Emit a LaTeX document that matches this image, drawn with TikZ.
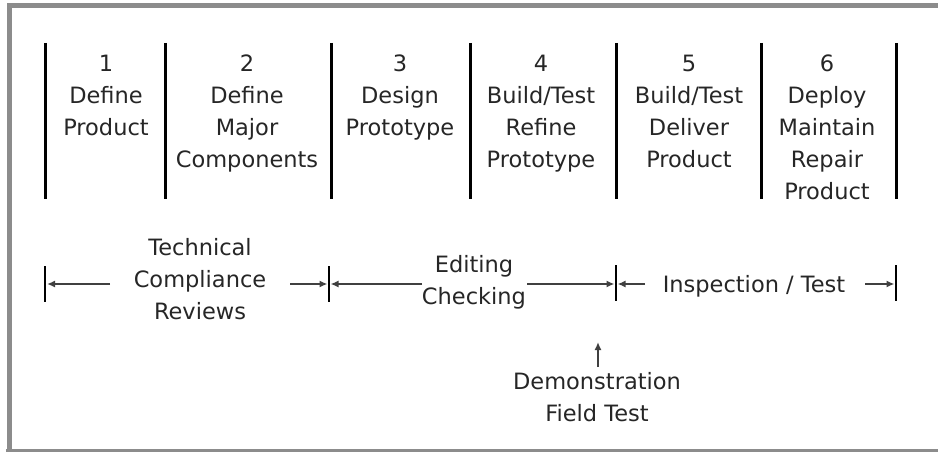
\documentclass[tikz,border=0pt]{standalone}
\usepackage{fontspec}
\setmainfont{DejaVu Sans}
\usetikzlibrary{arrows.meta}
\begin{document}
\begin{tikzpicture}[x=1pt,y=-1pt,
  txt/.style={inner sep=0pt,align=center,text=black!85,
    font=\fontsize{22.5}{32}\selectfont},
  phase/.style={txt,anchor=north},
  divider/.style={line width=3pt,black},
  tickmark/.style={line width=2.4pt,black},
  span/.style={line width=2pt,black!75,
    -{Latex[length=8pt,width=7pt]}},
  frameline/.style={draw=black!45}]
\useasboundingbox (0,0) rectangle (938,452);

% outer frame (open on the right)
\draw[frameline,line width=5pt] (938,5.5) -- (9,5.5) -- (9,452);
\draw[frameline,line width=2.5pt] (6,450.5) -- (938,450.5);

% phase dividers
\foreach \x in {45,165,331,470,616,761,896}
  \draw[divider] (\x,43) -- (\x,199);

% phase headings
\node[phase] (p1) at (106,55) {1\\Define\\Product};
\node[phase] (p2) at (247,55) {2\\Define\\Major\\Components};
\node[phase] (p3) at (400,55) {3\\Design\\Prototype};
\node[phase] (p4) at (541,55) {4\\Build/Test\\Refine\\Prototype};
\node[phase] (p5) at (689,55) {5\\Build/Test\\Deliver\\Product};
\node[phase] (p6) at (827,55) {6\\Deploy\\Maintain\\Repair\\Product};

% review span boundaries
\coordinate (t0) at (45,284);
\coordinate (t1) at (329,284);
\coordinate (t2) at (616,284);
\coordinate (t3) at (896,284);
\draw[tickmark] (45,266) -- (45,302);
\draw[tickmark] (329,266) -- (329,302);
\draw[tickmark] (616,265) -- (616,301);
\draw[tickmark] (896,265) -- (896,301);

% review activities
\node[txt,anchor=north] (tech) at (200,238) {Technical\\Compliance\\Reviews};
\node[txt,anchor=north] (edit) at (474,255) {Editing\\Checking};
\node[txt,anchor=base] (insp) at (754,292) {Inspection / Test};
\node[txt,anchor=north] (demo) at (597,372) {Demonstration\\Field Test};

% arrow tails
\coordinate (techL) at (110,284);
\coordinate (techR) at (290,284);
\coordinate (editL) at (422,284);
\coordinate (editR) at (527,284);
\coordinate (inspL) at (645,284);
\coordinate (inspR) at (865,284);
\coordinate (demoT) at (598,367);
\coordinate (demoH) at (598,342);

\draw[span] (techL) -- ([xshift=2pt]t0);
\draw[span] (techR) -- ([xshift=-1.5pt]t1);
\draw[span] (editL) -- ([xshift=1.5pt]t1);
\draw[span] (editR) -- ([xshift=-1.5pt]t2);
\draw[span] (inspL) -- ([xshift=1.5pt]t2);
\draw[span] (inspR) -- ([xshift=-1.5pt]t3);
\draw[span] (demoT) -- (demoH);
\end{tikzpicture}
\end{document}
